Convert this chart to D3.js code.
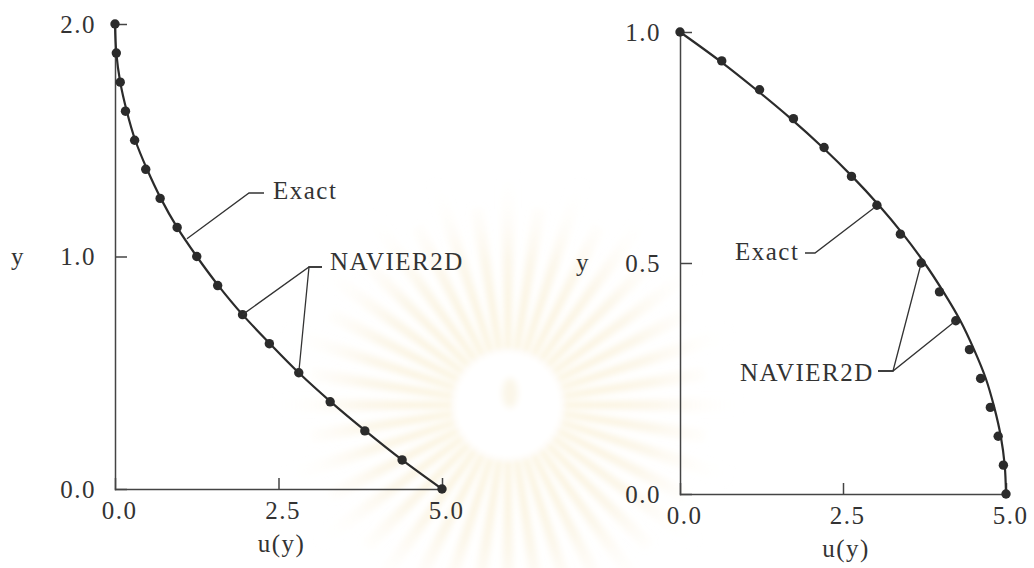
<!DOCTYPE html>
<html>
<head>
<meta charset="utf-8">
<script src="https://cdn.jsdelivr.net/npm/d3@7/dist/d3.min.js"></script>
<style>
  html, body { margin: 0; padding: 0; background: #fff; }
  svg { display: block; }
  .lbl { font-family: "Liberation Serif", "Times New Roman", serif; font-size: 25px; fill: #333; letter-spacing: 1.5px; }
  .axis path, .axis line { stroke: #444; stroke-width: 1.5; }
  .axis text { font-family: "Liberation Serif", "Times New Roman", serif; font-size: 25px; fill: #333; letter-spacing: 1.5px; }
</style>
</head>
<body>
<svg id="chart" width="1034" height="568"></svg>
<script>
// Channel flow (left) and pipe flow (right): velocity profile u(y),
// exact solution (line) against NAVIER2D results (dots).

// Left panel: y from 0 to 2
const leftY      = [2.0, 1.875, 1.75, 1.625, 1.5, 1.375, 1.25, 1.125, 1.0, 0.875, 0.75, 0.625, 0.5, 0.375, 0.25, 0.125, 0.0];
const leftExactU = [0.0, 0.02, 0.08, 0.18, 0.31, 0.49, 0.70, 0.95, 1.25, 1.58, 1.95, 2.37, 2.81, 3.30, 3.83, 4.39, 5.0];
const leftNavU   = [0.0, 0.02, 0.08, 0.16, 0.30, 0.47, 0.69, 0.95, 1.25, 1.57, 1.95, 2.36, 2.81, 3.29, 3.82, 4.39, 5.0];

// Right panel: y from 0 to 1
const rightY      = [1.0, 0.9375, 0.875, 0.8125, 0.75, 0.6875, 0.625, 0.5625, 0.5, 0.4375, 0.375, 0.3125, 0.25, 0.1875, 0.125, 0.0625, 0.0];
const rightExactU = [0.0, 0.61, 1.17, 1.70, 2.19, 2.64, 3.05, 3.42, 3.75, 4.04, 4.30, 4.51, 4.69, 4.82, 4.92, 4.98, 5.0];
const rightNavU   = [0.0, 0.64, 1.22, 1.74, 2.21, 2.63, 3.02, 3.38, 3.70, 3.98, 4.23, 4.44, 4.61, 4.76, 4.88, 4.96, 5.0];

// Tick values
const uTicks      = [0.0, 2.5, 5.0];
const leftYTicks  = [0.0, 1.0, 2.0];
const rightYTicks = [0.0, 0.5, 1.0];

const svg = d3.select("#chart");

// Faint emblem in the page background
(function emblem() {
  const cx = 508, cy = 405;
  const defs = svg.append("defs");
  const grad = defs.append("radialGradient").attr("id", "rayFade")
    .attr("gradientUnits", "userSpaceOnUse").attr("cx", 0).attr("cy", 0).attr("r", 240);
  grad.append("stop").attr("offset", "0.2").attr("stop-color", "#f1d88f").attr("stop-opacity", 0.45);
  grad.append("stop").attr("offset", "0.6").attr("stop-color", "#f4e3b8").attr("stop-opacity", 0.3);
  grad.append("stop").attr("offset", "1").attr("stop-color", "#ffffff").attr("stop-opacity", 0);
  defs.append("filter").attr("id", "soft").append("feGaussianBlur").attr("stdDeviation", 3);
  const g = svg.append("g").attr("filter", "url(#soft)")
    .attr("transform", `translate(${cx},${cy})`);
  const n = 40;
  const arc = d3.arc();
  for (let i = 0; i < n; i++) {
    const a = (i / n) * 2 * Math.PI;
    const outer = i % 2 === 0 ? 235 : 200;
    g.append("path")
      .attr("d", arc({ innerRadius: 55, outerRadius: outer, startAngle: a - 0.035, endAngle: a + 0.035 }))
      .attr("fill", "url(#rayFade)");
  }
  g.append("circle").attr("r", 52).attr("fill", "#fff");
  g.append("ellipse").attr("cx", 2).attr("cy", -12).attr("rx", 8).attr("ry", 15)
    .attr("fill", "#f3e2b4").attr("opacity", 0.3);
})();

function panel(cfg) {
  const x = d3.scaleLinear().domain([0, 5]).range(cfg.xRange);
  const y = d3.scaleLinear().domain(cfg.yDomain).range(cfg.yRange);
  const g = svg.append("g");

  const fmt = d3.format(".1f");
  g.append("g").attr("class", "axis")
    .attr("transform", `translate(0,${cfg.yRange[0]})`)
    .call(d3.axisBottom(x).tickValues(uTicks).tickFormat(fmt).tickSizeInner(-11).tickSizeOuter(0).tickPadding(12))
    .call(s => s.selectAll("text").attr("dx", 4));
  g.append("g").attr("class", "axis")
    .attr("transform", `translate(${cfg.xRange[0]},0)`)
    .call(d3.axisLeft(y).tickValues(cfg.yTicks).tickFormat(fmt).tickSizeInner(-12).tickSizeOuter(0).tickPadding(19));
  g.selectAll(".axis .domain").attr("stroke-linecap", "square");

  // Axis titles
  g.append("text").attr("class", "lbl")
    .attr("x", (cfg.xRange[0] + cfg.xRange[1]) / 2 + 3).attr("y", cfg.yRange[0] + 63)
    .attr("text-anchor", "middle").text("u(y)");
  g.append("text").attr("class", "lbl")
    .attr("x", cfg.yTitleX).attr("y", y(cfg.yMid)).attr("dy", "0.32em")
    .attr("text-anchor", "middle").text("y");

  // Exact solution
  const exact = cfg.ys.map((v, i) => [cfg.exactU[i], v]);
  g.append("path")
    .datum(exact)
    .attr("fill", "none").attr("stroke", "#2b2b2b").attr("stroke-width", 2.2)
    .attr("d", d3.line().x(d => x(d[0])).y(d => y(d[1])).curve(d3.curveMonotoneY));

  // NAVIER2D results
  g.selectAll("circle.pt")
    .data(cfg.ys.map((v, i) => [cfg.navU[i], v]))
    .join("circle").attr("class", "pt")
    .attr("cx", d => x(d[0])).attr("cy", d => y(d[1])).attr("r", 4.7)
    .attr("fill", "#2b2b2b");

  // Callouts
  cfg.notes.forEach(n => {
    n.targets.forEach(t => {
      const px = x(t[0]) + (t[2] || 0), py = y(t[1]) + (t[3] || 0);
      g.append("polyline")
        .attr("points", [[px, py], n.knee, n.end].map(p => p.join(",")).join(" "))
        .attr("fill", "none").attr("stroke", "#333").attr("stroke-width", 1.3);
    });
    g.append("text").attr("class", "lbl")
      .attr("x", n.textAt[0]).attr("y", n.textAt[1])
      .attr("text-anchor", n.anchor).text(n.text);
  });
}

panel({
  xRange: [115, 442], yDomain: [0, 2], yRange: [489, 24],
  yTicks: leftYTicks, yMid: 1.0, yTitleX: 18,
  ys: leftY, exactU: leftExactU, navU: leftNavU,
  notes: [
    { text: "Exact", targets: [[1.10, 1.076]], knee: [249, 193], end: [264, 193], textAt: [273, 199], anchor: "start" },
    { text: "NAVIER2D", targets: [[1.95, 0.75], [2.81, 0.5]], knee: [309, 267], end: [322, 267], textAt: [330, 270], anchor: "start" }
  ]
});

panel({
  xRange: [680, 1006], yDomain: [0, 1], yRange: [494, 32],
  yTicks: rightYTicks, yMid: 0.5, yTitleX: 583,
  ys: rightY, exactU: rightExactU, navU: rightNavU,
  notes: [
    { text: "Exact", targets: [[3.0, 0.625, -2, 3]], knee: [815, 253], end: [805, 253], textAt: [735, 260], anchor: "start" },
    { text: "NAVIER2D", targets: [[3.70, 0.5], [4.23, 0.375]], knee: [893, 371], end: [878, 371], textAt: [740, 381], anchor: "start" }
  ]
});
</script>
</body>
</html>
